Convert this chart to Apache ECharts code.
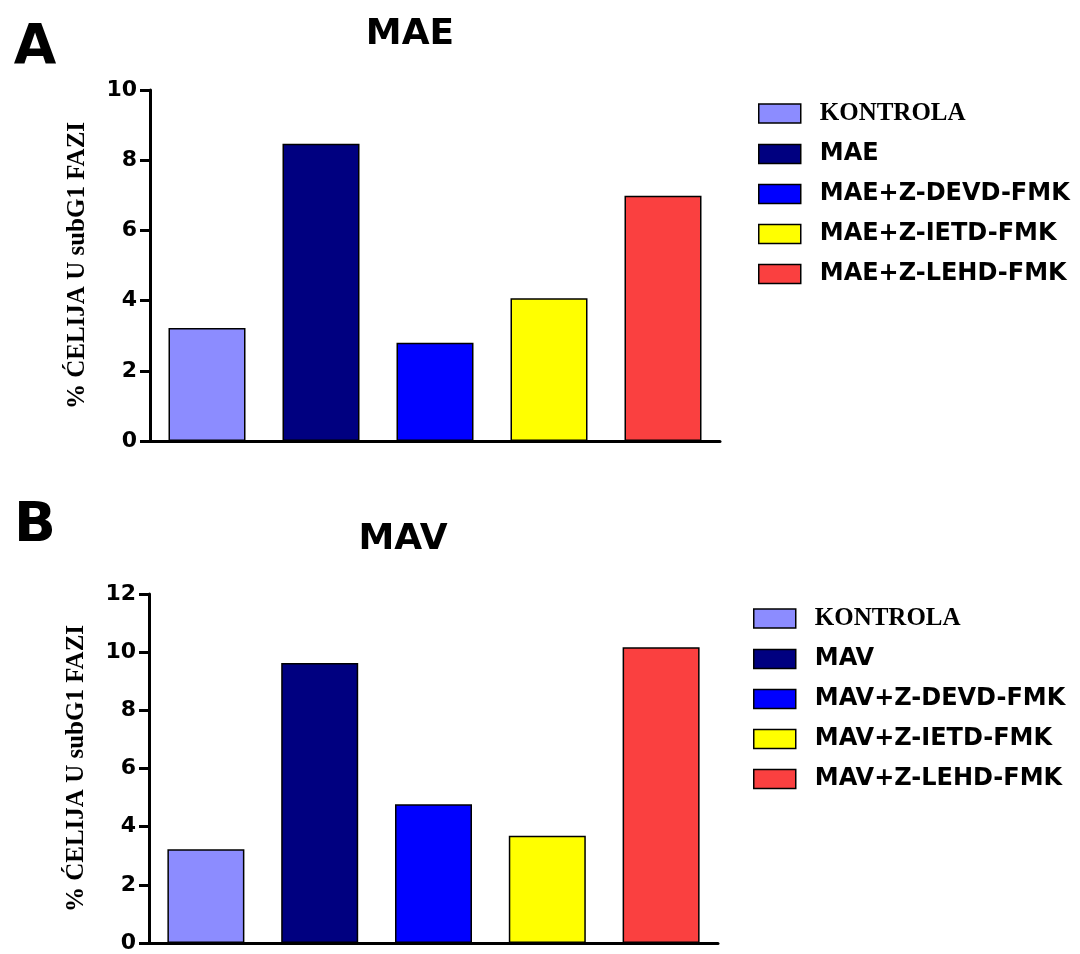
<!DOCTYPE html>
<html>
<head>
<meta charset="utf-8">
<script src="https://cdn.jsdelivr.net/npm/echarts@6/dist/echarts.min.js"></script>
<style>html,body{margin:0;padding:0;background:#fff}#c{width:1080px;height:954px}</style>
</head>
<body>
<div id="c"></div>
<script>
const namesA = ['KONTROLA', 'MAE', 'MAE+Z-DEVD-FMK', 'MAE+Z-IETD-FMK', 'MAE+Z-LEHD-FMK'];
const namesB = ['KONTROLA', 'MAV', 'MAV+Z-DEVD-FMK', 'MAV+Z-IETD-FMK', 'MAV+Z-LEHD-FMK'];
const valuesA = [3.22, 8.47, 2.80, 4.07, 6.99];
const valuesB = [3.22, 9.63, 4.77, 3.69, 10.17];
const yTicksA = { min: 0, max: 10, interval: 2 };
const yTicksB = { min: 0, max: 12, interval: 2 };
const colors = ['#8c8cff', '#000080', '#0000ff', '#ffff00', '#fa4040'];
const yName = '% ĆELIJA U subG1 FAZI';

const SANS = 'DejaVu Sans';
const SERIF = 'Liberation Serif';

function makeSeries(names, values, idx) {
  return names.map((n, i) => ({
    name: n,
    type: 'bar',
    xAxisIndex: idx, yAxisIndex: idx,
    barWidth: 77,
    barGap: '-100%',
    itemStyle: { color: colors[i], borderColor: '#000', borderWidth: 1.5 },
    data: values.map((v, j) => (j === i ? v : null)),
    silent: true
  }));
}

function yAxis(idx, t) {
  return {
    type: 'value', gridIndex: idx, min: t.min, max: t.max, interval: t.interval,
    name: yName, nameLocation: 'middle', nameRotate: 90, nameGap: 60,
    nameTextStyle: { fontFamily: SERIF, fontWeight: 'bold', fontSize: 25, color: '#000' },
    axisLine: { show: true, lineStyle: { color: '#000', width: 3 } },
    axisTick: { show: true, length: 10, lineStyle: { color: '#000', width: 3 } },
    axisLabel: { margin: 13, fontFamily: SANS, fontWeight: 'bold', fontSize: 22, color: '#000' },
    splitLine: { show: false }
  };
}
function xAxis(idx, names) {
  return {
    type: 'category', gridIndex: idx, data: names,
    axisLine: { show: true, lineStyle: { color: '#000', width: 3 } },
    axisTick: { show: false }, axisLabel: { show: false }
  };
}
function legend(names, left, top) {
  return {
    orient: 'vertical', left: left, top: top,
    itemWidth: 42, itemHeight: 19, itemGap: 16,
    selectedMode: false,
    icon: 'rect',
    itemStyle: { borderColor: '#000', borderWidth: 1.5 },
    textStyle: { fontFamily: SANS, fontWeight: 'bold', fontSize: 24, lineHeight: 24, color: '#000', padding: [0, 0, 0, 14] },
    data: names.map((n, i) => i === 0
      ? { name: n, textStyle: { fontFamily: SERIF, fontSize: 25 } }
      : { name: n })
  };
}
function txt(text, x, y, size) {
  return { type: 'text', x: x, y: y, silent: true,
    style: { text: text, fill: '#000', font: 'bold ' + size + 'px "' + SANS + '"', textAlign: 'center', textVerticalAlign: 'top' } };
}

const chart = echarts.init(document.getElementById('c'), null, { renderer: 'canvas' });
chart.setOption({
  animation: false,
  backgroundColor: '#fff',
  grid: [
    { left: 150, right: 360, top: 90, bottom: 513 },
    { left: 149, right: 362, top: 594, bottom: 9 }
  ],
  xAxis: [xAxis(0, namesA), xAxis(1, namesB)],
  yAxis: [yAxis(0, yTicksA), yAxis(1, yTicksB)],
  legend: [legend(namesA, 753, 96), legend(namesB, 748, 601)],
  graphic: [
    txt('A', 35, 21, 55),
    txt('MAE', 410, 17, 36),
    txt('B', 35, 499, 55),
    txt('MAV', 403, 522, 36)
  ],
  series: makeSeries(namesA, valuesA, 0).concat(makeSeries(namesB, valuesB, 1))
});
</script>
</body>
</html>
